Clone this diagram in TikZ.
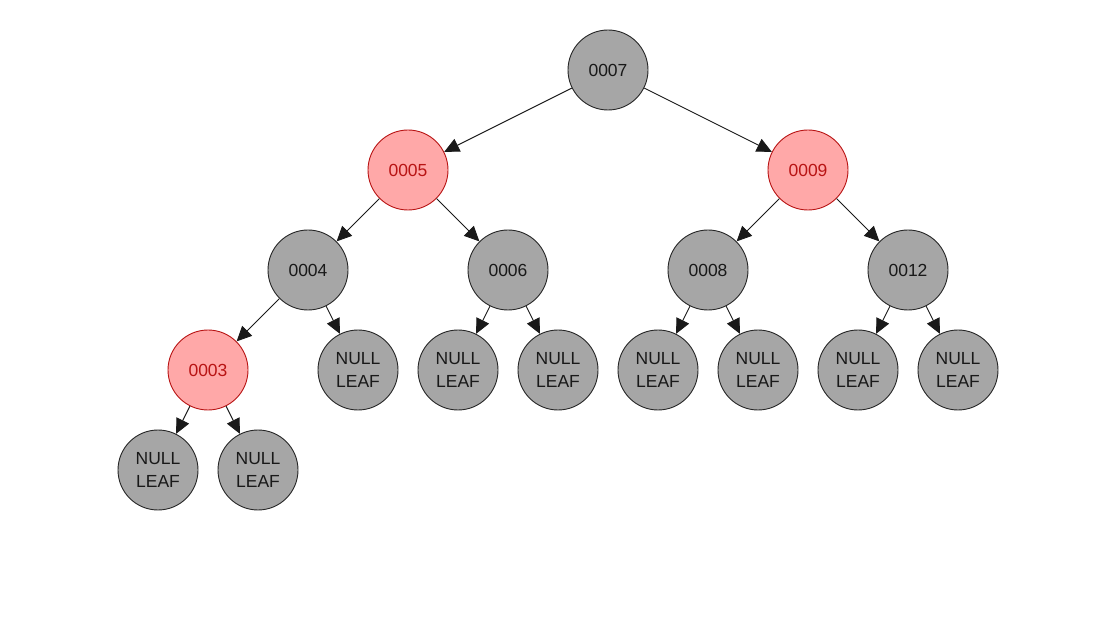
\documentclass[tikz,border=0pt]{standalone}
\usepackage{fontspec}
\setmainfont{Liberation Sans}
\usetikzlibrary{arrows.meta}
\definecolor{blackfill}{HTML}{A6A6A6}
\definecolor{redfill}{HTML}{FFA8A8}
\definecolor{redline}{HTML}{B81414}
\begin{document}
\begin{tikzpicture}[x=1pt,y=-1pt,
  rbnode/.style={circle,minimum size=80pt,inner sep=0pt,line width=0.9pt,
    font=\fontsize{17.5}{23}\selectfont,align=center,text depth=0pt},
  blacknode/.style={rbnode,draw=black!85,fill=blackfill,text=black!90},
  rednode/.style={rbnode,draw=redline,fill=redfill,text=redline},
  edge/.style={-{Triangle[length=15pt,width=14pt]},line width=0.9pt,black!90}]
\useasboundingbox (0,0) rectangle (1120,620);
\node[blacknode] (n7) at (608,70) {0007};
\node[rednode] (n5) at (408,170) {0005};
\node[rednode] (n9) at (808,170) {0009};
\node[blacknode] (n4) at (308,270) {0004};
\node[blacknode] (n6) at (508,270) {0006};
\node[blacknode] (n8) at (708,270) {0008};
\node[blacknode] (n12) at (908,270) {0012};
\node[rednode] (n3) at (208,370) {0003};
\node[blacknode] (l4r) at (358,370) {NULL\\LEAF};
\node[blacknode] (l6l) at (458,370) {NULL\\LEAF};
\node[blacknode] (l6r) at (558,370) {NULL\\LEAF};
\node[blacknode] (l8l) at (658,370) {NULL\\LEAF};
\node[blacknode] (l8r) at (758,370) {NULL\\LEAF};
\node[blacknode] (l12l) at (858,370) {NULL\\LEAF};
\node[blacknode] (l12r) at (958,370) {NULL\\LEAF};
\node[blacknode] (l3l) at (158,470) {NULL\\LEAF};
\node[blacknode] (l3r) at (258,470) {NULL\\LEAF};
\foreach \p/\c in {n7/n5,n7/n9,n5/n4,n5/n6,n9/n8,n9/n12,n4/n3,n4/l4r,
  n6/l6l,n6/l6r,n8/l8l,n8/l8r,n12/l12l,n12/l12r,n3/l3l,n3/l3r}
  \draw[edge] (\p) -- (\c);
\end{tikzpicture}
\end{document}
